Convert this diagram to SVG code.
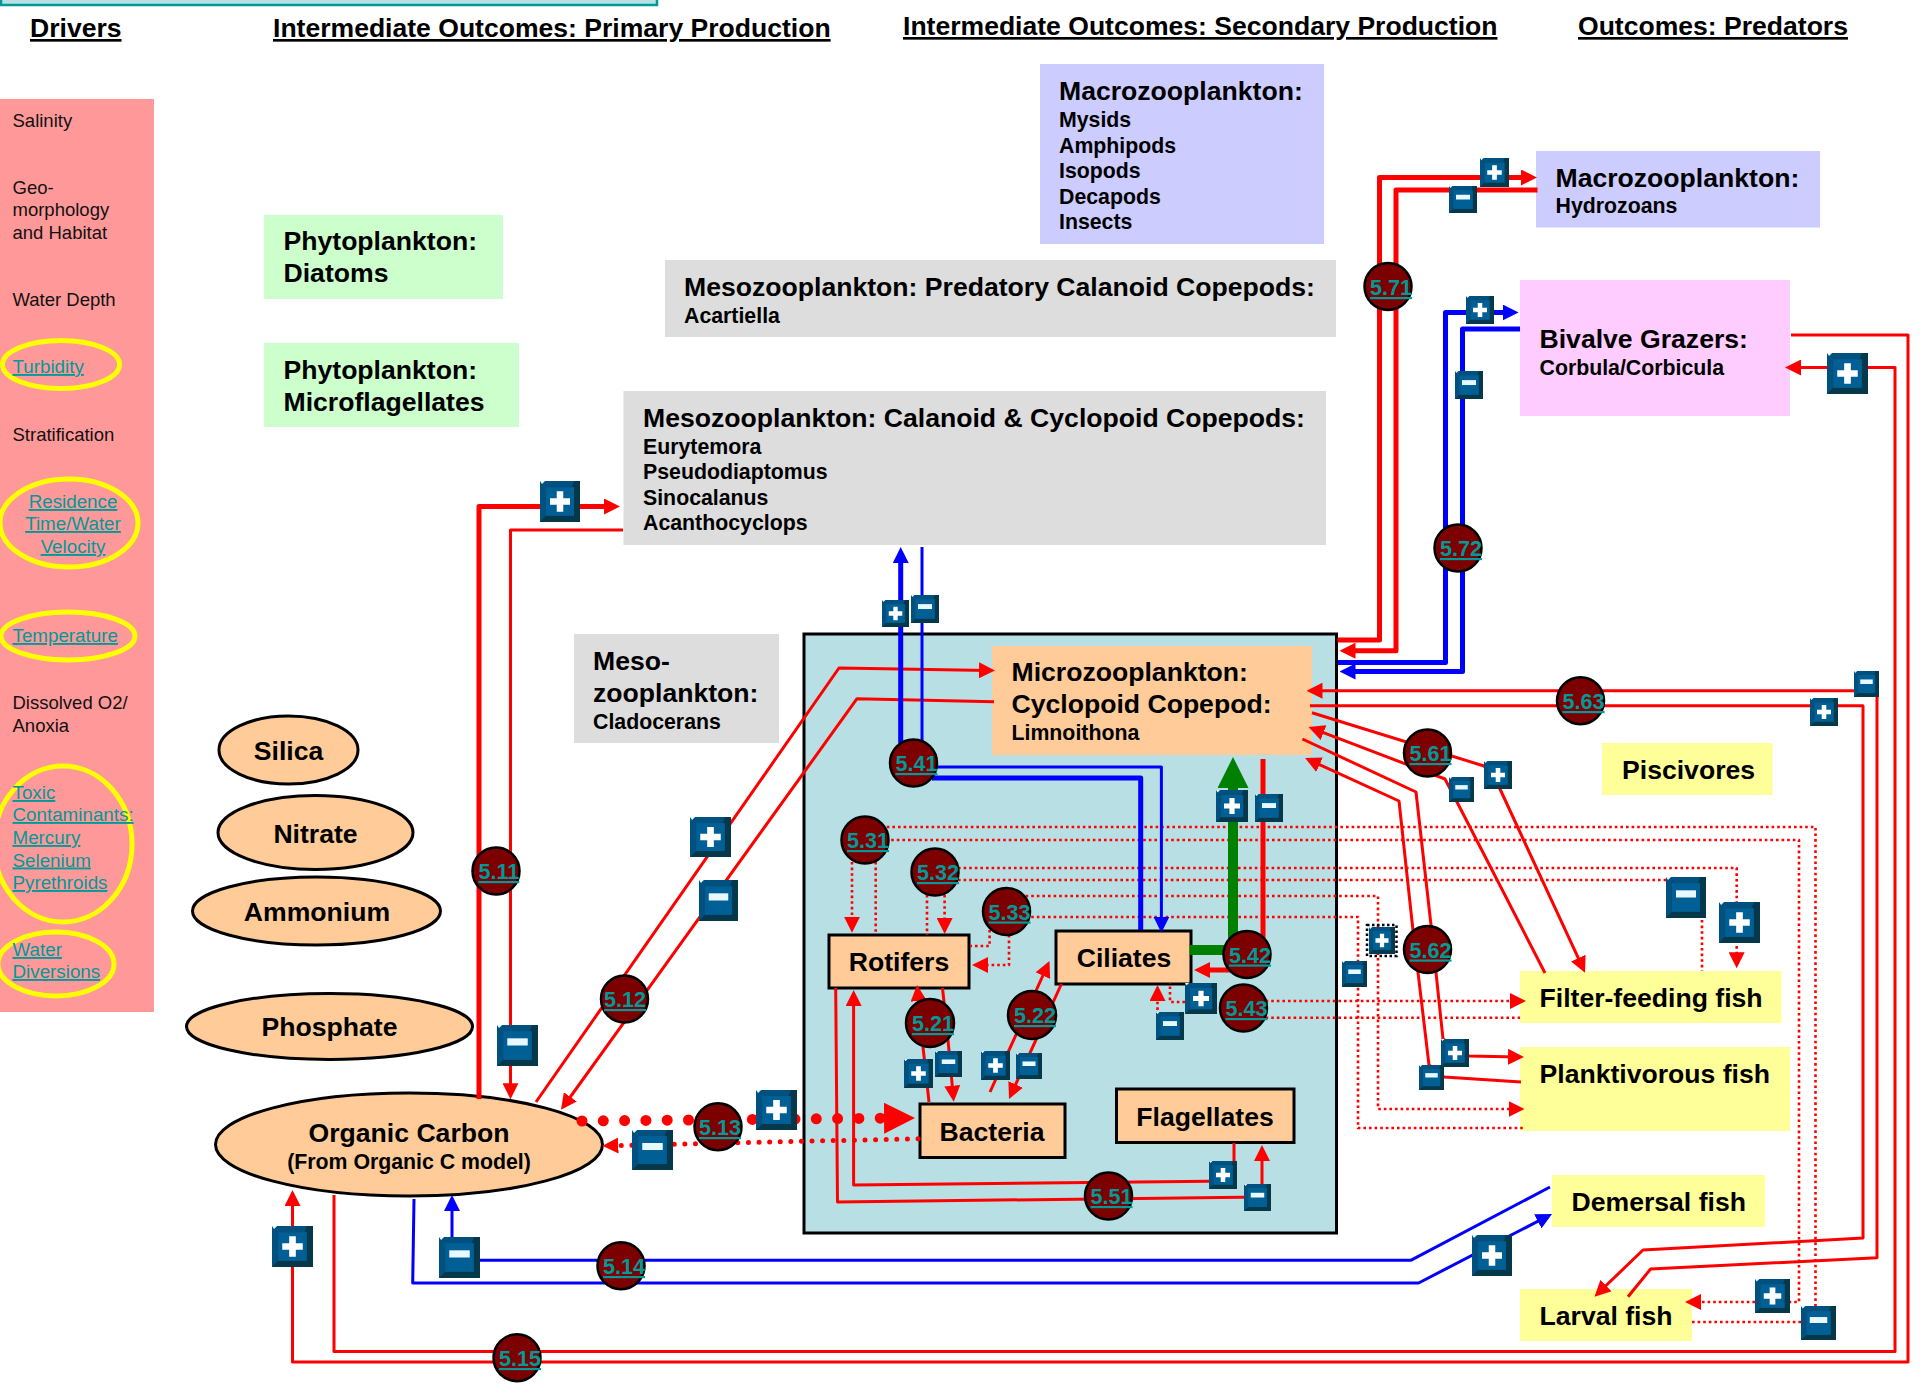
<svg xmlns="http://www.w3.org/2000/svg" width="1920" height="1391" viewBox="0 0 1920 1391">
<style>
text{font-family:"Liberation Sans",Arial,sans-serif;fill:#000}
.h{font-size:26.55px;font-weight:bold;text-decoration:underline;text-decoration-thickness:3px}
.t{font-size:26.6px;font-weight:bold}
.s{font-size:21.3px;font-weight:bold}
.d{font-size:18.5px;fill:#111}
.l{font-size:18.8px;fill:#009999;text-decoration:underline}
.c{text-anchor:middle}
.y{fill:none;stroke:#ffff00;stroke-width:5}
.o{fill:#ffcc99;stroke:#000;stroke-width:3}
.n{font-size:21.6px;font-weight:bold;fill:#009999;text-decoration:underline;text-decoration-thickness:3px}
.m{fill:#7c0000;stroke:#000;stroke-width:2.5}
path{fill:none;stroke-linejoin:round}
.r3{stroke:#ff0000;stroke-width:3}
.r5{stroke:#ff0000;stroke-width:5}
.b3{stroke:#0000ff;stroke-width:3}
.b5{stroke:#0000ff;stroke-width:5}
.g{stroke:#008000;stroke-width:10}
.rd{stroke:#ff0000;stroke-width:2.6;stroke-dasharray:2.6 3}
.a{marker-end:url(#ar)}
.e{marker-end:url(#ab)}
</style>
<defs>
<marker id="ar" markerUnits="userSpaceOnUse" markerWidth="16" markerHeight="16" viewBox="0 0 16 16" refX="10" refY="8" orient="auto"><polygon points="0,0 16,8 0,16" fill="#ff0000"/></marker>
<marker id="ab" markerUnits="userSpaceOnUse" markerWidth="16" markerHeight="16" viewBox="0 0 16 16" refX="10" refY="8" orient="auto"><polygon points="0,0 16,8 0,16" fill="#0000ff"/></marker>
<marker id="ag" markerUnits="userSpaceOnUse" markerWidth="31" markerHeight="31" viewBox="0 0 31 31" refX="20" refY="15.5" orient="auto"><polygon points="0,0 31,15.5 0,31" fill="#008000"/></marker>
<marker id="aR" markerUnits="userSpaceOnUse" markerWidth="31" markerHeight="31" viewBox="0 0 31 31" refX="20" refY="15.5" orient="auto"><polygon points="0,0 31,15.5 0,31" fill="#ff0000"/></marker>
<symbol id="plus" viewBox="0 0 40 40" preserveAspectRatio="none">
<rect width="40" height="40" fill="#04384a"/><polygon points="0,0 34,0 32,6 6,6 6,34 0,40" fill="#005080"/><rect x="6" y="6" width="28" height="28" fill="#006096"/><polygon points="0,0 5,0 2,3" fill="#e8ffff"/>
<path d="M20,10V30M10,20H30" style="stroke:#fff;stroke-width:6.5"/></symbol>
<symbol id="minus" viewBox="0 0 40 40" preserveAspectRatio="none">
<rect width="40" height="40" fill="#04384a"/><polygon points="0,0 34,0 32,6 6,6 6,34 0,40" fill="#005080"/><rect x="6" y="6" width="28" height="28" fill="#006096"/><polygon points="0,0 5,0 2,3" fill="#e8ffff"/>
<rect x="10" y="13" width="20" height="7" fill="#e8f8ff"/></symbol>
</defs>
<rect width="1920" height="1391" fill="#fff"/>

<g id="top-strip"><rect x="1" y="-6" width="656" height="11" fill="#b8dfe3" stroke="#009999" stroke-width="2.5"/></g>
<g id="headers">
<text class="h" x="30" y="37">Drivers</text>
<text class="h" x="273" y="37">Intermediate Outcomes: Primary Production</text>
<text class="h" x="903" y="35">Intermediate Outcomes: Secondary Production</text>
<text class="h" x="1578" y="35">Outcomes: Predators</text>
</g>

<g id="drivers">
<rect x="0" y="99" width="154" height="913" fill="#ff9999"/>
<ellipse class="y" cx="61" cy="364.500" rx="58.500" ry="24"/>
<ellipse class="y" cx="69" cy="523" rx="69" ry="44"/>
<ellipse class="y" cx="68" cy="636" rx="67" ry="24"/>
<ellipse class="y" cx="63" cy="844" rx="69" ry="78"/>
<ellipse class="y" cx="56" cy="964" rx="58" ry="32"/>
<text class="d" x="12.5" y="127">Salinity</text>
<text class="d" x="12.5" y="194">Geo-</text>
<text class="d" x="12.5" y="216">morphology</text>
<text class="d" x="12.5" y="239">and Habitat</text>
<text class="d" x="12.5" y="306">Water Depth</text>
<text class="l" x="12.500" y="373">Turbidity</text>
<text class="d" x="12.5" y="441">Stratification</text>
<text class="l c" x="73" y="508">Residence</text>
<text class="l c" x="73" y="530">Time/Water</text>
<text class="l c" x="73" y="553">Velocity</text>
<text class="l" x="12.5" y="642">Temperature</text>
<text class="d" x="12.5" y="709">Dissolved O2/</text>
<text class="d" x="12.5" y="732">Anoxia</text>
<text class="l" x="12.5" y="799">Toxic</text>
<text class="l" x="12.5" y="821">Contaminants:</text>
<text class="l" x="12.5" y="844">Mercury</text>
<text class="l" x="12.5" y="866.500">Selenium</text>
<text class="l" x="12.5" y="889">Pyrethroids</text>
<text class="l" x="12.5" y="956">Water</text>
<text class="l" x="12.5" y="978">Diversions</text>
</g>

<g id="diatoms"><rect x="264" y="215" width="239" height="84" fill="#ccffcc"/><text class="t" x="283.500" y="250">Phytoplankton:</text><text class="t" x="283.500" y="282">Diatoms</text></g>
<g id="microflagellates"><rect x="264" y="343" width="255" height="84" fill="#ccffcc"/><text class="t" x="283.500" y="379">Phytoplankton:</text><text class="t" x="283.500" y="411">Microflagellates</text></g>
<g id="macrozooplankton"><rect x="1040" y="64" width="284" height="180" fill="#ccccff"/><text class="t" x="1059" y="100">Macrozooplankton:</text><text class="s" x="1059" y="127">Mysids</text><text class="s" x="1059" y="153">Amphipods</text><text class="s" x="1059" y="178">Isopods</text><text class="s" x="1059" y="204">Decapods</text><text class="s" x="1059" y="229">Insects</text></g>
<g id="predatory-copepods"><rect x="665" y="260" width="671" height="77" fill="#dddddd"/><text class="t" x="684" y="296">Mesozooplankton: Predatory Calanoid Copepods:</text><text class="s" x="684" y="323">Acartiella</text></g>
<g id="calanoid-copepods"><rect x="623.500" y="391" width="702.500" height="154" fill="#dddddd"/><text class="t" x="643" y="427">Mesozooplankton: Calanoid &amp; Cyclopoid Copepods:</text><text class="s" x="643" y="454">Eurytemora</text><text class="s" x="643" y="479">Pseudodiaptomus</text><text class="s" x="643" y="505">Sinocalanus</text><text class="s" x="643" y="530">Acanthocyclops</text></g>
<g id="cladocerans"><rect x="574" y="634" width="205" height="109" fill="#dddddd"/><text class="t" x="593" y="670">Meso-</text><text class="t" x="593" y="702">zooplankton:</text><text class="s" x="593" y="729">Cladocerans</text></g>
<g id="hydrozoans"><rect x="1536" y="151" width="284" height="76.500" fill="#ccccff"/><text class="t" x="1555.500" y="186.500">Macrozooplankton:</text><text class="s" x="1555.500" y="213">Hydrozoans</text></g>
<g id="bivalve"><rect x="1520" y="280" width="270" height="136" fill="#ffccff"/><text class="t" x="1539.500" y="348">Bivalve Grazers:</text><text class="s" x="1539.500" y="375">Corbula/Corbicula</text></g>

<g id="silica"><ellipse class="o" cx="288.500" cy="750" rx="69.500" ry="34"/><text class="t c" x="288.500" y="760">Silica</text></g>
<g id="nitrate"><ellipse class="o" cx="315.500" cy="832.500" rx="97.500" ry="37"/><text class="t c" x="315.500" y="843">Nitrate</text></g>
<g id="ammonium"><ellipse class="o" cx="316.500" cy="911" rx="124" ry="34"/><text class="t c" x="317" y="921">Ammonium</text></g>
<g id="phosphate"><ellipse class="o" cx="329.500" cy="1026.500" rx="143" ry="33"/><text class="t c" x="329.500" y="1036">Phosphate</text></g>
<g id="organic-carbon"><ellipse class="o" cx="409" cy="1144.500" rx="193.500" ry="51.500"/><text class="t c" x="409" y="1142">Organic Carbon</text><text class="s c" x="409" y="1169">(From Organic C model)</text></g>

<g id="microbial-box"><rect x="804" y="634" width="532.500" height="599" fill="#b8dfe3" stroke="#000" stroke-width="3"/></g>
<g id="microzooplankton"><rect x="992" y="646" width="320" height="109" fill="#ffcc99"/><text class="t" x="1011.500" y="681">Microzooplankton:</text><text class="t" x="1011.500" y="713">Cyclopoid Copepod:</text><text class="s" x="1011.500" y="740">Limnoithona</text></g>
<g id="rotifers"><rect x="829" y="935" width="140" height="53" class="o"/><text class="t c" x="899" y="971">Rotifers</text></g>
<g id="ciliates"><rect x="1056" y="931" width="135" height="53" class="o"/><text class="t c" x="1124" y="967">Ciliates</text></g>
<g id="bacteria"><rect x="920" y="1104" width="145" height="53.500" class="o"/><text class="t c" x="992" y="1141">Bacteria</text></g>
<g id="flagellates"><rect x="1116.500" y="1089" width="177.500" height="53.500" class="o"/><text class="t c" x="1205" y="1126">Flagellates</text></g>
<g id="piscivores"><rect x="1602" y="743" width="170.500" height="52" fill="#ffff99"/><text class="t" x="1622" y="779">Piscivores</text></g>
<g id="filter-feeding"><rect x="1520" y="971" width="261.500" height="52" fill="#ffff99"/><text class="t" x="1539.500" y="1007">Filter-feeding fish</text></g>
<g id="planktivorous"><rect x="1520" y="1047" width="270" height="84" fill="#ffff99"/><text class="t" x="1539.500" y="1083">Planktivorous fish</text></g>
<g id="demersal"><rect x="1552" y="1175" width="213" height="52" fill="#ffff99"/><text class="t" x="1571.500" y="1211">Demersal fish</text></g>
<g id="larval"><rect x="1520" y="1289" width="172" height="52" fill="#ffff99"/><text class="t" x="1539.500" y="1325">Larval fish</text></g>

<g id="connectors">
<path class="rd" d="M870,827H1815.500V1306"/>
<path class="rd" d="M880,840H1799V1302H1790"/>
<path class="rd a" d="M1755,1302H1691"/>
<path class="rd" d="M1801,1322H1692"/>
<path class="rd a" d="M958,868H1736.700V962.300"/>
<path class="rd" d="M958,880H1702V971"/>
<path class="rd a" d="M1020,896H1378V1109H1518.500"/>
<path class="rd" d="M1020,917H1358V1128H1523"/>
<path class="rd a" d="M1260,1001H1520"/>
<path class="rd" d="M1260,1017.700H1520"/>
<path class="rd" d="M1185,1002H1170V983"/>
<path class="rd a" d="M1184,1017H1157.500V991"/>
<path class="rd a" d="M852,862V926.700"/>
<path class="rd" d="M875.700,862V933"/>
<path class="rd" d="M927,895V935"/>
<path class="rd a" d="M944.600,895V928"/>
<path class="rd" d="M989.600,930V946H970"/>
<path class="rd a" d="M1009,935V965H978"/>
<path d="M582,1121L904,1118" style="stroke:#ff0000;stroke-width:11;stroke-linecap:round;stroke-dasharray:0 21.300;marker-end:url(#aR)"/>
<path class="a" d="M918,1138.700L608.400,1145.700" style="stroke:#ff0000;stroke-width:5;stroke-linecap:round;stroke-dasharray:0 10.600"/>

<path class="r5 a" d="M479,1099V506.500H614"/>
<path class="r3 a" d="M623,530H510.500V1093.300"/>
<path class="r3 a" d="M536,1102L839,668L989,670.500"/>
<path class="r3 a" d="M994,701.700L857,698.700L564.500,1105"/>
<path class="b3" d="M1550,1187L1410.700,1260.300H452V1260"/>
<path class="b3 e" d="M452,1240V1201"/>
<path class="b3 e" d="M414,1199L412.700,1283H1418.600L1546.700,1216.700"/>
<path class="r3 a" d="M1791,335H1908V1362H292.500V1196"/>
<path class="r3 a" d="M334,1195V1351.500H1895V367.500H1791"/>

<path class="b5 e" d="M900.700,763V553"/>
<path class="b3" d="M922,763V547"/>
<path class="b5" d="M932,778H1140.700V930"/>
<path class="b3 e" d="M937,767H1161.400V926.700"/>
<path class="g" d="M1189.600,950H1233V768" style="marker-end:url(#ag)"/>
<path class="r5" d="M1263,759V950"/>
<path class="r5 a" d="M1240,970H1200"/>
<path class="r3 a" d="M929,1102L923,1047L917.600,991"/>
<path class="r3 a" d="M942.500,988L948,1040L953.200,1095.700"/>
<path class="r3 a" d="M990,1092L1047,966.500"/>
<path class="r3 a" d="M1061.400,984L1011.500,1093.500"/>
<path class="r3 a" d="M1234,1143V1181L853.600,1185V996"/>
<path class="r3 a" d="M835.700,988L837.500,1202L1262,1197V1151"/>

<path class="r5 a" d="M1337.500,640H1379.500V177.500H1531"/>
<path class="r5 a" d="M1537.500,190H1396V650.700H1345.500"/>
<path class="b5 e" d="M1338,662.500H1445.500V312.500H1512.600"/>
<path class="b5 e" d="M1520,329H1462.500V671.500H1345.500"/>
<path class="r3 a" d="M1628,1296.700L1650.600,1269L1877,1257.700V690.700H1312.500"/>
<path class="r3 a" d="M1310,705.700H1863V1238L1643,1250L1598.800,1292.500"/>
<path class="r3 a" d="M1312,712.700L1484,766L1500,789L1582.500,967.200"/>
<path class="r3 a" d="M1545,973L1457,802L1445,779L1314.200,729.100"/>
<path class="r3 a" d="M1302.400,739L1416,792L1431,925L1443,1039L1469,1056L1518,1057"/>
<path class="r3 a" d="M1521,1082L1444,1077L1429,1065L1412.600,926.700L1399,801L1310.500,760.500"/>
</g>

<g id="sign-badges">
<use href="#plus" x="540" y="481" width="40" height="41"/>
<use href="#minus" x="497" y="1025" width="41" height="41"/>
<use href="#plus" x="690" y="817" width="41" height="40"/>
<use href="#minus" x="699" y="880" width="39" height="41"/>
<use href="#plus" x="756" y="1090" width="41" height="40"/>
<use href="#minus" x="632" y="1130" width="41" height="40"/>
<use href="#minus" x="439" y="1237" width="41" height="41"/>
<use href="#plus" x="272" y="1226" width="41" height="41"/>
<use href="#plus" x="882" y="600" width="27" height="27"/>
<use href="#minus" x="911" y="595" width="28" height="28"/>
<use href="#plus" x="1216" y="790" width="32" height="32"/>
<use href="#minus" x="1255" y="794" width="28" height="28"/>
<use href="#plus" x="1185" y="983" width="32" height="31"/>
<use href="#minus" x="1156" y="1012" width="28" height="28"/>
<use href="#plus" x="904" y="1059" width="29" height="29"/>
<use href="#minus" x="935" y="1051" width="27" height="26"/>
<use href="#plus" x="981" y="1051" width="29" height="29"/>
<use href="#minus" x="1016" y="1053" width="26" height="26"/>
<use href="#plus" x="1209" y="1161" width="28" height="28"/>
<use href="#minus" x="1244" y="1184" width="27" height="27"/>
<use href="#minus" x="1854" y="671" width="25" height="26"/>
<use href="#plus" x="1810" y="698" width="28" height="28"/>
<use href="#plus" x="1484" y="761" width="28" height="28"/>
<use href="#minus" x="1449" y="777" width="25" height="25"/>
<rect x="1367" y="925" width="29.500" height="31" fill="none" stroke="#000" stroke-width="2.500" stroke-dasharray="2.500 2.500"/>
<use href="#plus" x="1369" y="927" width="26" height="27"/>
<use href="#minus" x="1342" y="961" width="25" height="26"/>
<use href="#minus" x="1666" y="877" width="40" height="41"/>
<use href="#plus" x="1719" y="902" width="41" height="41"/>
<use href="#plus" x="1441" y="1039" width="28" height="28"/>
<use href="#minus" x="1419" y="1065" width="25" height="25"/>
<use href="#plus" x="1480" y="158" width="29" height="29"/>
<use href="#minus" x="1449" y="186" width="28" height="27"/>
<use href="#plus" x="1466" y="296" width="28" height="28"/>
<use href="#minus" x="1455" y="371" width="28" height="28"/>
<use href="#plus" x="1827" y="353" width="41" height="41"/>
<use href="#plus" x="1472" y="1235" width="40" height="41"/>
<use href="#plus" x="1755" y="1279" width="35" height="34"/>
<use href="#minus" x="1801" y="1306" width="35" height="34"/>
</g>

<g id="b511"><circle class="m" cx="496" cy="871" r="23.500"/><text class="n" x="478.500" y="879">5.11</text></g>
<g id="b512"><circle class="m" cx="624.500" cy="999" r="23.500"/><text class="n" x="604" y="1007">5.12</text></g>
<g id="b513"><circle class="m" cx="718" cy="1126.700" r="23.500"/><text class="n" x="699" y="1135">5.13</text></g>
<g id="b514"><circle class="m" cx="621" cy="1265.700" r="23.500"/><text class="n" x="603" y="1274">5.14</text></g>
<g id="b515"><circle class="m" cx="517" cy="1357.700" r="23.500"/><text class="n" x="499" y="1366">5.15</text></g>
<g id="b521"><circle class="m" cx="930" cy="1023" r="24"/><text class="n" x="912" y="1031">5.21</text></g>
<g id="b522"><circle class="m" cx="1032" cy="1015" r="24"/><text class="n" x="1014" y="1023">5.22</text></g>
<g id="b531"><circle class="m" cx="865" cy="840" r="23.500"/><text class="n" x="847" y="848">5.31</text></g>
<g id="b532"><circle class="m" cx="935" cy="872" r="23.500"/><text class="n" x="917" y="880">5.32</text></g>
<g id="b533"><circle class="m" cx="1006.500" cy="911.500" r="23.500"/><text class="n" x="988.500" y="919.500">5.33</text></g>
<g id="b541"><circle class="m" cx="913.500" cy="763" r="23.500"/><text class="n" x="895.400" y="771">5.41</text></g>
<g id="b542"><circle class="m" cx="1247" cy="954.500" r="23.500"/><text class="n" x="1229" y="962.500">5.42</text></g>
<g id="b543"><circle class="m" cx="1243.500" cy="1008" r="23.500"/><text class="n" x="1225.500" y="1016">5.43</text></g>
<g id="b551"><circle class="m" cx="1108.500" cy="1196" r="23.500"/><text class="n" x="1090.500" y="1204">5.51</text></g>
<g id="b561"><circle class="m" cx="1427.500" cy="753" r="23.500"/><text class="n" x="1409.500" y="761">5.61</text></g>
<g id="b562"><circle class="m" cx="1427.500" cy="949.500" r="23.500"/><text class="n" x="1409.500" y="957.500">5.62</text></g>
<g id="b563"><circle class="m" cx="1580.500" cy="700.700" r="23.500"/><text class="n" x="1562.500" y="709">5.63</text></g>
<g id="b571"><circle class="m" cx="1388" cy="286.500" r="23.500"/><text class="n" x="1370" y="295">5.71</text></g>
<g id="b572"><circle class="m" cx="1458" cy="548" r="23.500"/><text class="n" x="1440" y="556">5.72</text></g>
</svg>
